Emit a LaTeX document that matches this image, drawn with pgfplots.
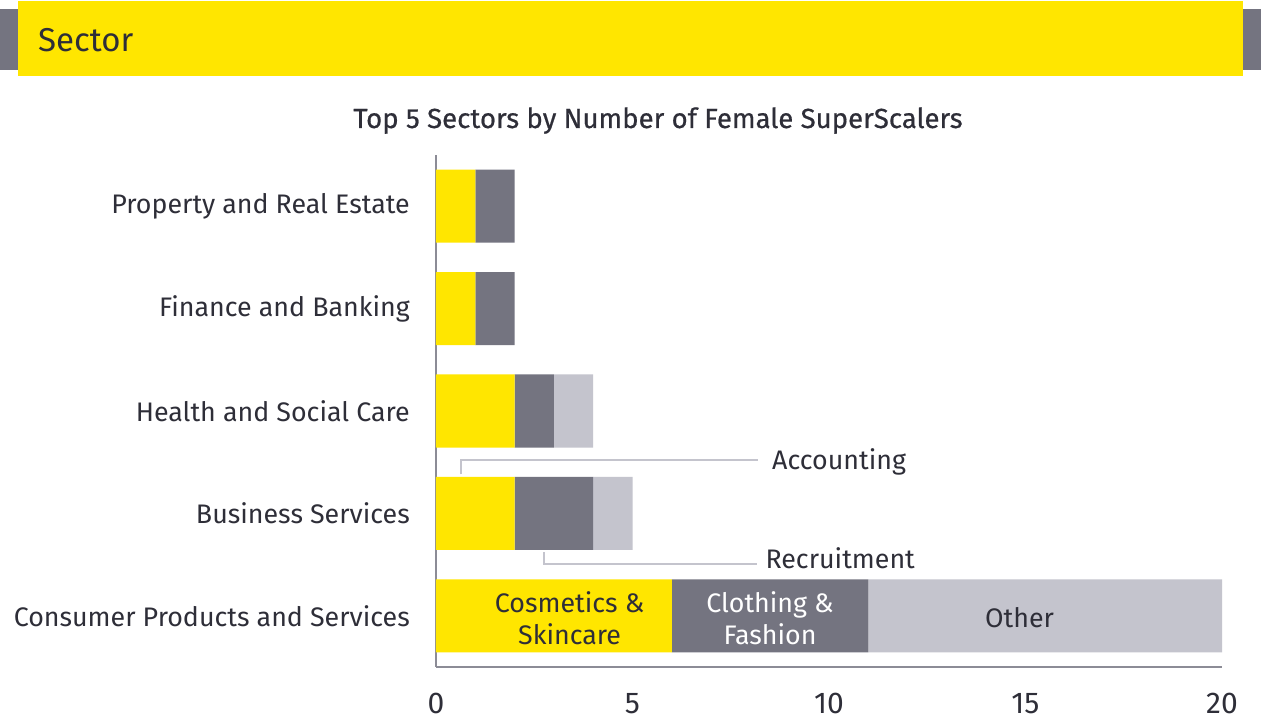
\documentclass[border=0pt]{standalone}
\usepackage{pgfplots}
\pgfplotsset{compat=1.18}
\usepackage{fontspec}
\setmainfont{Fira Sans}
\definecolor{eyyellow}{HTML}{FFE600}
\definecolor{eydark}{HTML}{747480}
\definecolor{eylight}{HTML}{C4C4CD}
\definecolor{eytext}{HTML}{2E2E38}
\definecolor{eyaxis}{HTML}{8C8C96}
\begin{document}
\begin{tikzpicture}[x=1pt,y=1pt]
\fill[white] (0,0) rectangle (1261,720);
% header
\fill[eydark] (0,650) rectangle (20,711);
\fill[eydark] (1241,650) rectangle (1261,711);
\fill[eyyellow] (18,644) rectangle (1243,719);
\node[anchor=base west,inner sep=0pt,text=eytext,font=\fontsize{33}{40}\selectfont] at (38,668) {Sector};
\node[anchor=base,inner sep=0pt,text=eytext,font=\fontsize{27.6}{30}\selectfont\addfontfeature{FakeBold=0.6}] at (658,592) {Top 5 Sectors by Number of Female SuperScalers};
\begin{axis}[
  at={(436pt,53pt)}, anchor=south west,
  scale only axis, width=786pt, height=512pt,
  xbar stacked, bar width=73pt,
  xmin=0, xmax=20, ymin=-0.5, ymax=4.5,
  axis lines*=left,
  axis line style={draw=eyaxis, line width=1.5pt, -},
  xtick={0,5,10,15,20},
  ytick={0,1,2,3,4},
  yticklabels={Consumer Products and Services, Business Services, Health and Social Care, Finance and Banking, Property and Real Estate},
  major tick length=0pt,
  tick style={draw=none},
  ticklabel style={text=eytext, font=\fontsize{26.8}{30}\selectfont},
  yticklabel style={anchor=east, inner sep=0pt, xshift=-26pt},
  xticklabel style={anchor=north, inner sep=0pt, yshift=-26pt, font=\fontsize{30}{34}\selectfont},
  /pgf/number format/assume math mode=true,
  clip=false,
]
\addplot[fill=eyyellow, draw=none] coordinates {(6,0) (2,1) (2,2) (1,3) (1,4)};
\addplot[fill=eydark, draw=none] coordinates {(5,0) (2,1) (1,2) (1,3) (1,4)};
\addplot[fill=eylight, draw=none] coordinates {(9,0) (1,1) (1,2) (0,3) (0,4)};
\coordinate (cos) at (axis cs:3.4,-0.02);
\coordinate (clo) at (axis cs:8.5,-0.02);
\coordinate (oth) at (axis cs:14.85,-0.02);
\draw[eylight, line width=2pt] (axis cs:0.64,1.38) -- (axis cs:0.64,1.52) -- (axis cs:8.2,1.52);
\draw[eylight, line width=2pt] (axis cs:2.75,0.62) -- (axis cs:2.75,0.506) -- (axis cs:8.18,0.506);
\node[anchor=west, inner sep=0pt, text=eytext, font=\fontsize{26.8}{30}\selectfont] at (axis cs:8.55,1.50) {Accounting};
\node[anchor=west, inner sep=0pt, text=eytext, font=\fontsize{26.8}{30}\selectfont] at (axis cs:8.38,0.56) {Recruitment};
\end{axis}
\node[align=center, text=eytext, font=\fontsize{26.8}{32}\selectfont] at (cos) {Cosmetics \&\\Skincare};
\node[align=center, text=white, font=\fontsize{26.8}{32}\selectfont] at (clo) {Clothing \&\\Fashion};
\node[align=center, text=eytext, font=\fontsize{26.8}{32}\selectfont] at (oth) {Other};
\end{tikzpicture}
\end{document}
